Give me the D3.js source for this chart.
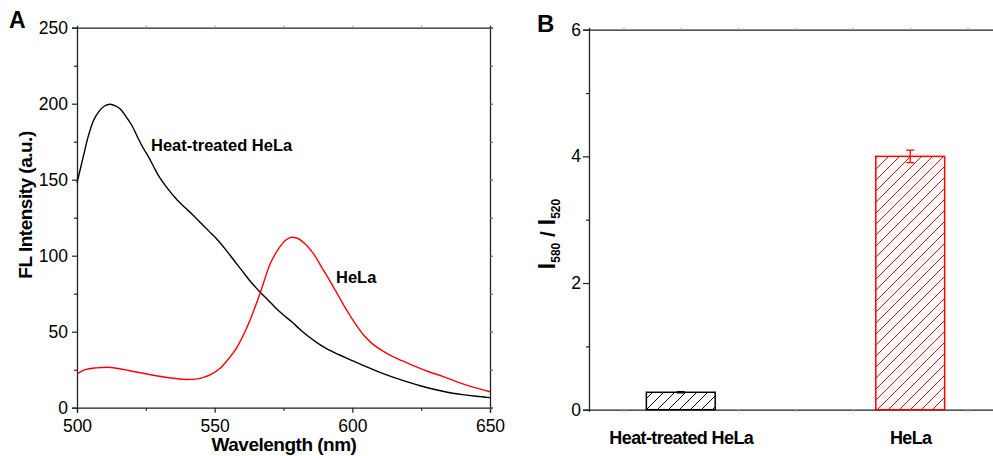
<!DOCTYPE html>
<html>
<head>
<meta charset="utf-8">
<script src="https://cdn.jsdelivr.net/npm/d3@7"></script>
<style>
  html, body { margin: 0; padding: 0; background: #fff; }
  svg { display: block; font-family: Arial, "Liberation Sans", sans-serif; }
</style>
</head>
<body>
<svg id="chart" width="993" height="456"></svg>
<script>
// panel A: emission spectra
const heatWavelengths = [500, 502, 504, 506, 508, 510, 512, 514, 516, 518, 520, 522, 524, 526, 528, 530, 533, 536, 539, 542, 545, 548, 551, 554, 557, 560, 563, 566, 569, 572, 575, 578, 581, 584, 587, 590, 595, 600, 605, 610, 615, 620, 625, 630, 635, 640, 645, 650]
const heatIntensity = [148, 163, 178, 189, 195, 198.5, 199.6, 198.5, 196, 191, 185.5, 178, 171, 165, 158, 151.5, 144, 137.5, 132, 127, 121.5, 116, 110.5, 104, 97, 90, 83, 77, 71.5, 66, 61, 56.5, 51.5, 47, 43, 39.5, 35, 31, 27, 23.3, 20, 17, 14.3, 12, 10, 8.6, 7.5, 6.6]

const helaWavelengths = [500, 503, 507, 511, 515, 520, 525, 530, 535, 540, 543, 546, 549, 552, 555, 558, 561, 564, 567, 570, 573, 576, 578, 580, 583, 586, 589, 592, 595, 598, 601, 604, 607, 610, 614, 618, 623, 628, 633, 638, 643, 650]
const helaIntensity = [22.2, 25, 26.2, 26.6, 25.8, 24, 22.3, 20.7, 19.4, 18.6, 18.8, 20, 22.3, 26, 32, 39.5, 50, 63, 78, 94, 104, 110.5, 112.1, 111.5, 107.5, 101, 92, 83, 73.5, 64, 55.5, 48, 42.5, 38.5, 34.2, 31, 27, 23.5, 20.5, 17, 14, 10.5]

const spectrumXTicks = [500, 550, 600, 650]
const spectrumXMinor = [525, 575, 625]
const spectrumYTicks = [0, 50, 100, 150, 200, 250]
const spectrumYMinor = [25, 75, 125, 175, 225]

// panel B: ratio bars
const categories = ['Heat-treated HeLa', 'HeLa']
const ratioValues = [0.275, 4.0]
const ratioErrors = [0.01, 0.1]
const barColors = ['#000000', '#ff0000']
const ratioYTicks = [0, 2, 4, 6]
const ratioYMinor = [1, 3, 5]

const svg = d3.select('#chart')
const axisColor = '#222'
const tickFont = 17.5

function styleAxis (g, fontSize) {
  g.select('.domain').attr('stroke', axisColor).attr('stroke-width', 1.3)
  g.selectAll('.tick line').attr('stroke', axisColor).attr('stroke-width', 1.2)
  g.selectAll('.tick text')
    .attr('fill', '#000')
    .style('font-size', fontSize + 'px')
    .style('font-family', 'Arial, "Liberation Sans", sans-serif')
}

// ---------- panel A ----------
const xA = d3.scaleLinear().domain([500, 650]).range([77, 490])
const yA = d3.scaleLinear().domain([0, 250]).range([407.7, 27.7])

const panelA = svg.append('g')

panelA.append('g')
  .attr('transform', `translate(0,${yA(0)})`)
  .call(d3.axisBottom(xA).tickValues(spectrumXTicks).tickSize(5).tickPadding(7).tickFormat(d3.format('d')))
  .call(g => styleAxis(g, tickFont))
panelA.append('g')
  .attr('transform', `translate(0,${yA(0)})`)
  .call(d3.axisBottom(xA).tickValues(spectrumXMinor).tickSize(3).tickFormat(''))
  .call(g => { g.select('.domain').remove(); styleAxis(g, tickFont) })

panelA.append('g')
  .attr('transform', `translate(${xA(500)},0)`)
  .call(d3.axisLeft(yA).tickValues(spectrumYTicks).tickSize(5).tickPadding(4))
  .call(g => styleAxis(g, tickFont))
panelA.append('g')
  .attr('transform', `translate(${xA(500)},0)`)
  .call(d3.axisLeft(yA).tickValues(spectrumYMinor).tickSize(3).tickFormat(''))
  .call(g => { g.select('.domain').remove(); styleAxis(g, tickFont) })

panelA.append('g')
  .attr('transform', `translate(0,${yA(250)})`)
  .call(d3.axisTop(xA).tickValues(spectrumXMinor.concat([550, 600])).tickSize(2).tickFormat(''))
  .call(g => styleAxis(g, tickFont))
  .call(g => g.selectAll('.tick line').attr('stroke', '#999'))

panelA.append('g')
  .attr('transform', `translate(${xA(650)},0)`)
  .call(d3.axisRight(yA).tickValues(spectrumYTicks.concat(spectrumYMinor)).tickSize(3).tickFormat(''))
  .call(g => styleAxis(g, tickFont))
  .call(g => g.selectAll('.tick line').attr('stroke', '#666'))

const line = d3.line()
  .x(d => xA(d[0]))
  .y(d => yA(d[1]))
  .curve(d3.curveMonotoneX)

panelA.append('path')
  .datum(heatWavelengths.map((w, i) => [w, heatIntensity[i]]))
  .attr('d', line)
  .attr('fill', 'none')
  .attr('stroke', '#000')
  .attr('stroke-width', 1.4)

panelA.append('path')
  .datum(helaWavelengths.map((w, i) => [w, helaIntensity[i]]))
  .attr('d', line)
  .attr('fill', 'none')
  .attr('stroke', '#ff0000')
  .attr('stroke-width', 1.4)

panelA.append('text')
  .attr('x', 151).attr('y', 150.5)
  .style('font-size', '16.5px').style('font-weight', 'bold')
  .text('Heat-treated HeLa')

panelA.append('text')
  .attr('x', 336).attr('y', 282.5)
  .style('font-size', '16.5px').style('font-weight', 'bold')
  .text('HeLa')

panelA.append('text')
  .attr('transform', 'translate(32,205) rotate(-90)')
  .attr('text-anchor', 'middle')
  .style('font-size', '19px').style('font-weight', 'bold').style('letter-spacing', '-0.5px')
  .text('FL Intensity (a.u.)')

panelA.append('text')
  .attr('x', 284).attr('y', 451)
  .attr('text-anchor', 'middle')
  .style('font-size', '19px').style('font-weight', 'bold').style('letter-spacing', '-0.5px')
  .text('Wavelength (nm)')

svg.append('text')
  .attr('x', 9).attr('y', 28)
  .style('font-size', '23px').style('font-weight', 'bold')
  .text('A')

// ---------- panel B ----------
const xB = d3.scaleLinear().domain([0.6, 2.4]).range([589, 1002])
const yB = d3.scaleLinear().domain([0, 6]).range([409.7, 29.7])
const barWidth = 0.3

const defs = svg.append('defs')
barColors.forEach((c, i) => {
  const p = defs.append('pattern')
    .attr('id', 'hatch' + i)
    .attr('patternUnits', 'userSpaceOnUse')
    .attr('width', 11).attr('height', 11)
  p.append('path')
    .attr('d', 'M0,11 L11,0 M-3,3 L3,-3 M8,14 L14,8')
    .attr('stroke', c)
    .attr('stroke-width', 1)
})

const panelB = svg.append('g')

panelB.append('g')
  .attr('transform', `translate(0,${yB(0)})`)
  .call(d3.axisBottom(xB).tickValues(d3.range(0.75, 2.4, 0.25)).tickSize(2).tickFormat(''))
  .call(g => styleAxis(g, tickFont))
  .call(g => g.selectAll('.tick line').attr('stroke', '#aaa'))
panelB.append('g')
  .attr('transform', `translate(0,${yB(0)})`)
  .call(d3.axisBottom(xB).tickValues([1, 2]).tickSize(0).tickPadding(22).tickFormat((d, i) => categories[i]))
  .call(g => { g.select('.domain').remove(); styleAxis(g, 18) })
  .call(g => g.selectAll('.tick text').style('font-weight', 'bold').style('letter-spacing', '-0.6px'))

panelB.append('g')
  .attr('transform', `translate(0,${yB(6)})`)
  .call(d3.axisTop(xB).tickValues(d3.range(0.75, 2.4, 0.25)).tickSize(2).tickFormat(''))
  .call(g => styleAxis(g, tickFont))
  .call(g => g.selectAll('.tick line').attr('stroke', '#aaa'))

panelB.append('g')
  .attr('transform', `translate(${xB(0.6)},0)`)
  .call(d3.axisLeft(yB).tickValues(ratioYTicks).tickSize(6).tickPadding(2).tickFormat(d3.format('d')))
  .call(g => styleAxis(g, tickFont))
panelB.append('g')
  .attr('transform', `translate(${xB(0.6)},0)`)
  .call(d3.axisLeft(yB).tickValues(ratioYMinor).tickSize(3).tickFormat(''))
  .call(g => { g.select('.domain').remove(); styleAxis(g, tickFont) })

const bars = panelB.selectAll('.bar')
  .data(ratioValues)
  .join('g')
  .attr('class', 'bar')

bars.append('rect')
  .attr('x', (d, i) => xB(i + 1 - barWidth / 2))
  .attr('y', d => yB(d))
  .attr('width', xB(1 + barWidth) - xB(1))
  .attr('height', d => yB(0) - yB(d))
  .attr('fill', (d, i) => `url(#hatch${i})`)
  .attr('stroke', (d, i) => barColors[i])
  .attr('stroke-width', 1.5)

bars.append('path')
  .attr('d', (d, i) => {
    const cx = xB(i + 1)
    const top = yB(d + ratioErrors[i])
    const bottom = yB(d - ratioErrors[i])
    return `M${cx - 4},${top} H${cx + 4} M${cx},${top} V${bottom} M${cx - 4},${bottom} H${cx + 4}`
  })
  .attr('fill', 'none')
  .attr('stroke', (d, i) => barColors[i])
  .attr('stroke-width', 1.3)

const yLabelB = panelB.append('text')
  .attr('transform', 'translate(555,234) rotate(-90)')
  .attr('text-anchor', 'middle')
  .style('font-weight', 'bold')
yLabelB.append('tspan').style('font-size', '23px').text('I')
yLabelB.append('tspan').style('font-size', '12px').attr('dy', 5).text('580')
yLabelB.append('tspan').style('font-size', '21px').attr('dy', -5).text(' / ')
yLabelB.append('tspan').style('font-size', '23px').text('I')
yLabelB.append('tspan').style('font-size', '12px').attr('dy', 5).text('520')

svg.append('text')
  .attr('x', 537).attr('y', 32)
  .style('font-size', '24px').style('font-weight', 'bold')
  .text('B')
</script>
</body>
</html>
